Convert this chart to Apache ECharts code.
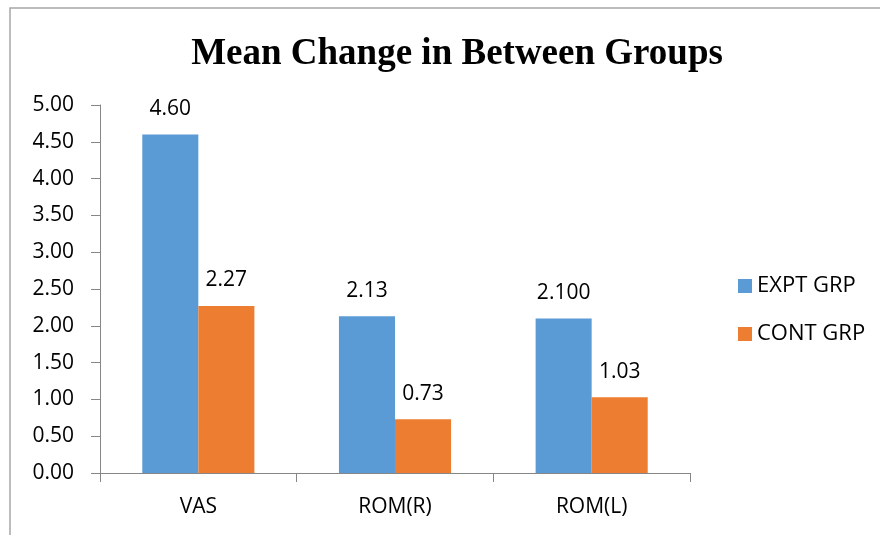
<!DOCTYPE html>
<html>
<head>
<meta charset="utf-8">
<script src="https://cdn.jsdelivr.net/npm/echarts@6/dist/echarts.min.js"></script>
<style>
  html, body { margin: 0; padding: 0; background: #fff; }
  #chart { width: 880px; height: 535px; }
</style>
</head>
<body>
<div id="chart"></div>
<script>
// data
const categories = ['VAS', 'ROM(R)', 'ROM(L)'];
const exptValues = [4.60, 2.13, 2.10];
const contValues = [2.27, 0.73, 1.03];
// labels as printed on the bars
const exptLabels = ['4.60', '2.13', '2.100'];
const contLabels = ['2.27', '0.73', '1.03'];
const yTicks = ['0.00', '0.50', '1.00', '1.50', '2.00', '2.50', '3.00', '3.50', '4.00', '4.50', '5.00'];

const bodyFont = '"Open Sans", "Liberation Sans", sans-serif';

const myChart = echarts.init(document.getElementById('chart'));

const options = {
    title: {
        text: 'Mean Change in Between Groups',
        left: 452,
        textAlign: 'center',
        top: 31,
        textStyle: {
            fontFamily: '"Liberation Serif", serif',
            fontWeight: 'bold',
            fontSize: 37,
            color: '#000'
        }
    },
    // outer frame of the chart
    graphic: [{
        type: 'rect',
        shape: { x: 10, y: 8, width: 900, height: 600 },
        style: { fill: 'none', stroke: '#a6a6a6', lineWidth: 1.5 },
        silent: true
    }],
    legend: {
        orient: 'vertical',
        left: 733,
        top: 270,
        itemWidth: 14,
        itemHeight: 14,
        itemGap: 26,
        icon: 'rect',
        textStyle: { fontFamily: bodyFont, fontSize: 22, color: '#000' },
        data: ['EXPT GRP', 'CONT GRP']
    },
    grid: {
        left: 100,
        right: 190,
        top: 105,
        bottom: 62
    },
    xAxis: {
        type: 'category',
        data: categories,
        axisLine: { lineStyle: { color: '#868686' } },
        axisTick: { show: true, alignWithLabel: false, length: 9, lineStyle: { color: '#868686' } },
        axisLabel: { fontFamily: bodyFont, fontSize: 21, color: '#000', margin: 24 }
    },
    yAxis: {
        type: 'value',
        min: 0,
        max: 5,
        interval: 0.5,
        splitLine: { show: false },
        axisLine: { show: true, lineStyle: { color: '#868686' } },
        axisTick: { show: true, length: 9, lineStyle: { color: '#868686' } },
        axisLabel: {
            fontFamily: bodyFont,
            fontSize: 21,
            color: '#000',
            margin: 26,
            formatter: (v) => yTicks[Math.round(v / 0.5)]
        }
    },
    series: [
        {
            name: 'EXPT GRP',
            type: 'bar',
            data: exptValues,
            barGap: '0%',
            barCategoryGap: '43%',
            itemStyle: { color: '#5B9BD5' },
            label: {
                show: true,
                position: 'top',
                distance: 15,
                fontFamily: bodyFont,
                fontSize: 21,
                color: '#000',
                formatter: (p) => exptLabels[p.dataIndex]
            }
        },
        {
            name: 'CONT GRP',
            type: 'bar',
            data: contValues,
            itemStyle: { color: '#ED7D31' },
            label: {
                show: true,
                position: 'top',
                distance: 15,
                fontFamily: bodyFont,
                fontSize: 21,
                color: '#000',
                formatter: (p) => contLabels[p.dataIndex]
            }
        }
    ]
};

myChart.setOption(options);
</script>
</body>
</html>
